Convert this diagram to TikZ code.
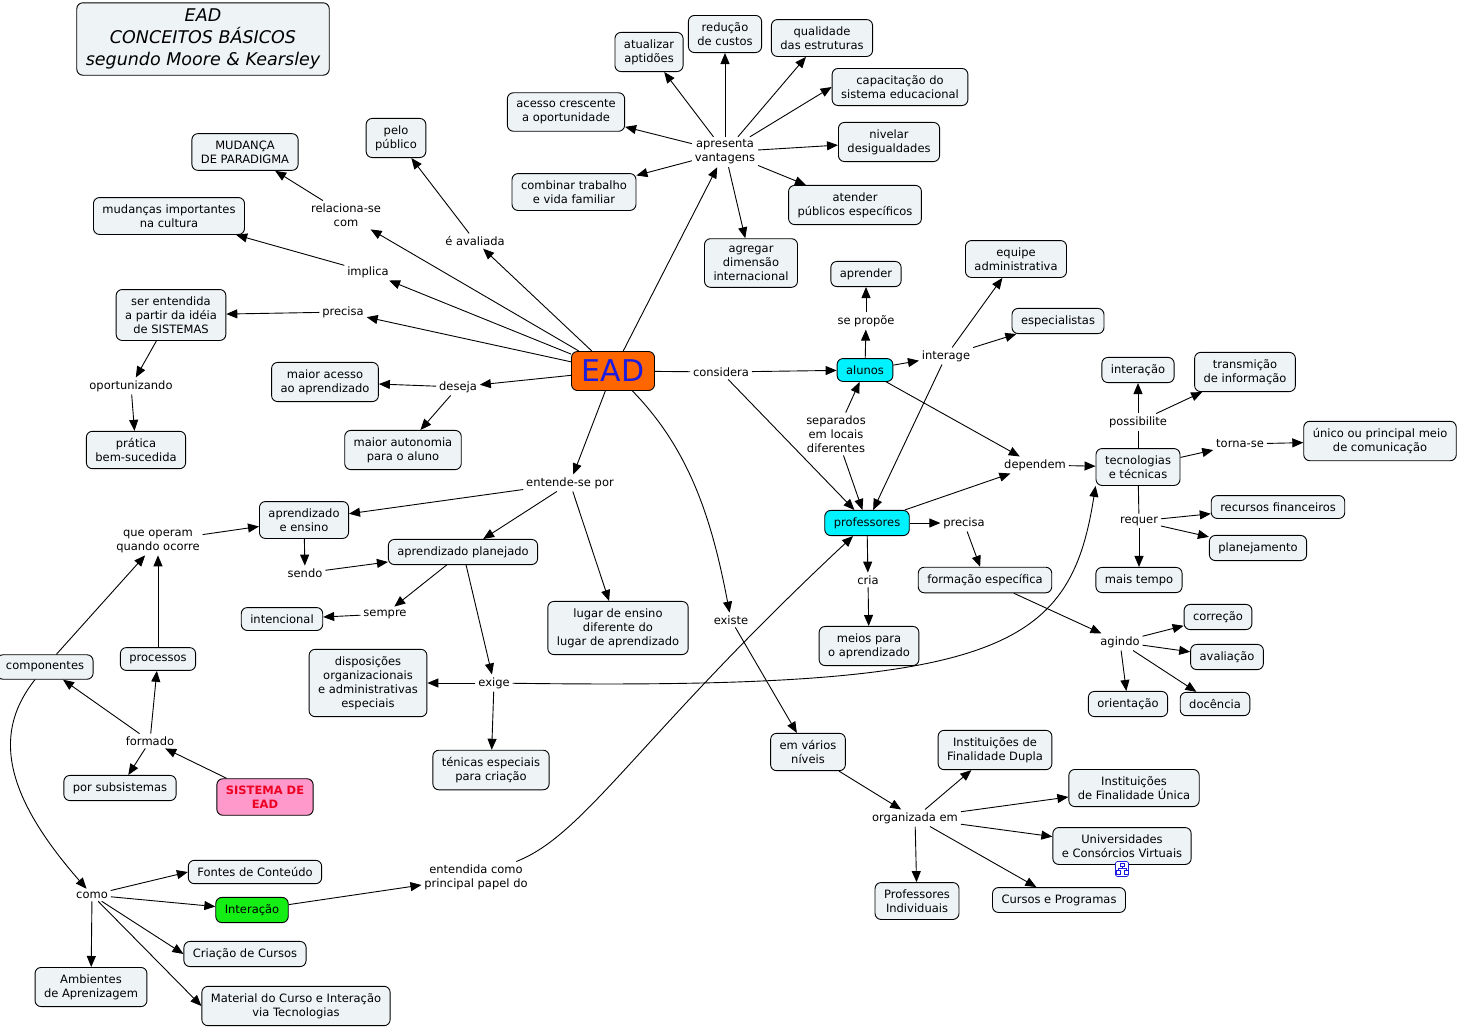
\documentclass[tikz,border=0pt]{standalone}
\usepackage{fontspec}
\setmainfont{DejaVu Sans}
\usepackage{xcolor}
\usetikzlibrary{arrows.meta}
\definecolor{cmapfill}{HTML}{EEF3F5}
\definecolor{cmapcyan}{HTML}{00F2FF}
\definecolor{cmaporange}{HTML}{FF6600}
\definecolor{cmapblue}{HTML}{1C1CE0}
\definecolor{cmappink}{HTML}{FF99CC}
\definecolor{cmapred}{HTML}{EE0022}
\definecolor{cmapgreen}{HTML}{14EE14}

\begin{document}
\begin{tikzpicture}[x=1pt,y=-1pt,line width=0.9pt,
  >={Triangle[length=11pt,width=9pt]},
  every node/.style={font=\fontsize{11.5}{14}\selectfont,align=center},
  concept/.style={draw,rounded corners=6pt,fill=cmapfill,inner xsep=9pt,inner ysep=7pt},
  phrase/.style={inner sep=2.5pt}]
  \useasboundingbox[fill=white] (0,0) rectangle (1461,1031);

  % concepts
  \node[concept,font=\fontsize{17.5}{22}\selectfont\itshape,inner ysep=6pt] (title) at (203,39) {EAD\\CONCEITOS BÁSICOS\\segundo Moore \& Kearsley};
  \node[concept,fill=cmaporange,text=cmapblue,font=\fontsize{30}{32}\selectfont,minimum width=83pt,minimum height=39pt,inner sep=2pt] (ead) at (613,371) {EAD};
  \node[concept] (mudanca) at (245,152) {MUDANÇA\\DE PARADIGMA};
  \node[concept] (pelo) at (396,138) {pelo\\público};
  \node[concept] (mudcult) at (169,216) {mudanças importantes\\na cultura};
  \node[concept] (sistemas) at (171,315) {ser entendida\\a partir da idéia\\de SISTEMAS};
  \node[concept] (pratica) at (136,450) {prática\\bem-sucedida};
  \node[concept] (maioracesso) at (325,382) {maior acesso\\ao aprendizado};
  \node[concept] (maiorauto) at (403,450) {maior autonomia\\para o aluno};
  \node[concept] (atualizar) at (649,52) {atualizar\\aptidões};
  \node[concept] (reducao) at (725,34) {redução\\de custos};
  \node[concept] (qualidade) at (822,38) {qualidade\\das estruturas};
  \node[concept] (capacitacao) at (900,87) {capacitação do\\sistema educacional};
  \node[concept] (acesso) at (566,112) {acesso crescente\\a oportunidade};
  \node[concept] (nivelar) at (889,142) {nivelar\\desigualdades};
  \node[concept] (combinar) at (574,192) {combinar trabalho\\e vida familiar};
  \node[concept] (atender) at (855,205) {atender\\públicos específicos};
  \node[concept] (agregar) at (751,263) {agregar\\dimensão\\internacional};
  \node[concept] (aprender) at (866,274) {aprender};
  \node[concept] (equipe) at (1016,259) {equipe\\administrativa};
  \node[concept] (especialistas) at (1058,321) {especialistas};
  \node[concept,fill=cmapcyan] (alunos) at (865,370) {alunos};
  \node[concept] (interacao) at (1138,370) {interação};
  \node[concept] (transmicao) at (1245,372) {transmição\\de informação};
  \node[concept] (tecnologias) at (1138,467) {tecnologias\\e técnicas};
  \node[concept] (unico) at (1380,441) {único ou principal meio\\de comunicação};
  \node[concept] (recursos) at (1278,507) {recursos financeiros};
  \node[concept] (planejamento) at (1258,548) {planejamento};
  \node[concept] (maistempo) at (1139,580) {mais tempo};
  \node[concept,fill=cmapcyan] (professores) at (867,523) {professores};
  \node[concept] (formacao) at (985,580) {formação específica};
  \node[concept] (meios) at (869,646) {meios para\\o aprendizado};
  \node[concept] (correcao) at (1218,617) {correção};
  \node[concept] (avaliacao) at (1227,657) {avaliação};
  \node[concept] (orientacao) at (1128,704) {orientação};
  \node[concept] (docencia) at (1215,704) {docência};
  \node[concept] (emvarios) at (808,752) {em vários\\níveis};
  \node[concept] (instdupla) at (995,750) {Instituições de\\Finalidade Dupla};
  \node[concept] (instunica) at (1134,788) {Instituições\\de Finalidade Única};
  \node[concept] (univ) at (1122,846) {Universidades\\e Consórcios Virtuais};
  \node[concept] (profind) at (917,901) {Professores\\Individuais};
  \node[concept] (cursos) at (1059,900) {Cursos e Programas};
  \node[concept] (aprendensino) at (304,520) {aprendizado\\e ensino};
  \node[concept] (planejado) at (463,552) {aprendizado planejado};
  \node[concept] (intencional) at (282,619) {intencional};
  \node[concept] (lugar) at (618,628) {lugar de ensino\\diferente do\\lugar de aprendizado};
  \node[concept] (disposicoes) at (368,683) {disposições\\organizacionais\\e administrativas\\especiais};
  \node[concept] (tecnicas) at (491,770) {ténicas especiais\\para criação};
  \node[concept] (componentes) at (45,667) {componentes};
  \node[concept] (processos) at (158,659) {processos};
  \node[concept] (porsub) at (120,788) {por subsistemas};
  \node[concept,fill=cmappink,text=cmapred,font=\fontsize{11.5}{14}\selectfont\bfseries] (sistemaead) at (265,797) {SISTEMA DE\\EAD};
  \node[concept] (fontes) at (255,872) {Fontes de Conteúdo};
  \node[concept,fill=cmapgreen] (interacaoB) at (252,910) {Interação};
  \node[concept] (criacao) at (245,954) {Criação de Cursos};
  \node[concept] (ambientes) at (91,987) {Ambientes\\de Aprenizagem};
  \node[concept] (material) at (296,1006) {Material do Curso e Interação\\via Tecnologias};

  % resource icon
  \node[draw=cmapblue,fill=white,rounded corners=1.5pt,line width=0.6pt,minimum width=13pt,minimum height=15pt,inner sep=0pt] (univicon) at (1122,869) {};
  \draw[cmapblue,line width=0.6pt] (1120,863) rectangle (1124,866) (1122,866) -- (1122,868) (1118,868) -- (1126,868)
    (1118,868) -- (1118,870) (1126,868) -- (1126,870) (1116,870) rectangle (1120,874) (1124,870) rectangle (1128,874);

  % linking phrases
  \node[phrase] (relaciona) at (346,215) {relaciona-se\\com};
  \node[phrase] (avaliada) at (475,241) {é avaliada};
  \node[phrase] (implica) at (368,272) {implica};
  \node[phrase] (precisaA) at (343,312) {precisa};
  \node[phrase] (deseja) at (458,387) {deseja};
  \node[phrase] (oportunizando) at (131,386) {oportunizando};
  \node[phrase] (apresenta) at (725,152) {apresenta\\vantagens};
  \node[phrase] (considera) at (721,372) {considera};
  \node[phrase] (sepropoe) at (866,321) {se propõe};
  \node[phrase] (interage) at (946,356) {interage};
  \node[phrase] (separados) at (836,434) {separados\\em locais\\diferentes};
  \node[phrase] (dependem) at (1035,465) {dependem};
  \node[phrase] (possibilite) at (1138,422) {possibilite};
  \node[phrase] (tornase) at (1240,444) {torna-se};
  \node[phrase] (requer) at (1139,521) {requer};
  \node[phrase] (precisaB) at (964,523) {precisa};
  \node[phrase] (cria) at (868,580) {cria};
  \node[phrase] (agindo) at (1120,642) {agindo};
  \node[phrase] (entendese) at (570,483) {entende-se por};
  \node[phrase] (existe) at (731,620) {existe};
  \node[phrase] (organizada) at (915,818) {organizada em};
  \node[phrase] (sendo) at (305,573) {sendo};
  \node[phrase] (sempre) at (385,614) {sempre};
  \node[phrase] (exige) at (494,683) {exige};
  \node[phrase] (queoperam) at (158,541) {que operam\\quando ocorre};
  \node[phrase] (formado) at (150,741) {formado};
  \node[phrase] (como) at (92,895) {como};
  \node[phrase] (entendida) at (476,877) {entendida como\\principal papel do};

  % connectors
  \path[->]
    (ead) edge (relaciona) (relaciona) edge (mudanca)
    (ead) edge (avaliada) (avaliada) edge (pelo)
    (ead) edge (implica) (implica) edge (mudcult)
    (ead) edge (precisaA) (precisaA) edge (sistemas)
    (ead) edge (deseja) (deseja) edge (maioracesso) (deseja) edge (maiorauto)
    (sistemas) edge (oportunizando) (oportunizando) edge (pratica)
    (ead) edge (apresenta)
    (apresenta) edge (acesso) (apresenta) edge (atualizar) (apresenta) edge (reducao)
    (apresenta) edge (qualidade) (apresenta) edge (capacitacao.west) (apresenta) edge (nivelar)
    (apresenta) edge (atender) (apresenta) edge (agregar) (apresenta) edge (combinar)
    (ead) edge (entendese)
    (entendese) edge (aprendensino) (entendese) edge (planejado) (entendese) edge (lugar);
  \path[->]
    (ead) edge[-] (considera) (considera) edge (alunos) (considera) edge (professores)
    (alunos) edge (sepropoe) (sepropoe) edge (aprender)
    (alunos) edge (interage) (interage) edge (equipe) (interage) edge (especialistas)
    (interage) edge (professores)
    (separados) edge (alunos) (separados) edge (professores)
    (alunos) edge (dependem) (professores) edge (dependem) (dependem) edge (tecnologias)
    (tecnologias) edge[-] (possibilite) (possibilite) edge (interacao) (possibilite) edge (transmicao)
    (tecnologias) edge (tornase) (tornase) edge (unico)
    (tecnologias) edge[-] (requer) (requer) edge (recursos) (requer) edge (planejamento)
    (requer) edge (maistempo)
    (professores) edge (precisaB) (precisaB) edge (formacao)
    (professores) edge (cria) (cria) edge (meios)
    (formacao) edge (agindo) (agindo) edge (correcao) (agindo) edge (avaliacao)
    (agindo) edge (orientacao) (agindo) edge (docencia);
  \path[->]
    (existe) edge (emvarios) (emvarios) edge (organizada)
    (organizada) edge (instdupla) (organizada) edge (instunica) (organizada) edge (univ)
    (organizada) edge (cursos) (organizada) edge (profind)
    (aprendensino) edge (sendo) (sendo) edge (planejado)
    (planejado) edge (sempre) (sempre) edge (intencional)
    (planejado) edge (exige) (exige) edge (disposicoes) (exige) edge (tecnicas)
    (sistemaead) edge (formado) (formado) edge (componentes) (formado) edge (processos)
    (formado) edge (porsub)
    (componentes) edge (queoperam) (processos) edge (queoperam) (queoperam) edge (aprendensino)
    (como) edge (fontes.west) (como) edge (interacaoB) (como) edge (criacao.west)
    (como) edge (ambientes) (como) edge (material.west)
    (interacaoB) edge (entendida);
  \draw[->] (ead) .. controls (690,450) and (712,520) .. (existe);
  \draw[->] (exige) .. controls (1000,690) and (1070,650) .. (tecnologias.south west);
  \draw[->] (entendida) .. controls (585,835) and (640,735) .. (professores);
  \draw[->] (componentes) .. controls (-5,730) and (0,790) .. (como);
\end{tikzpicture}
\end{document}
